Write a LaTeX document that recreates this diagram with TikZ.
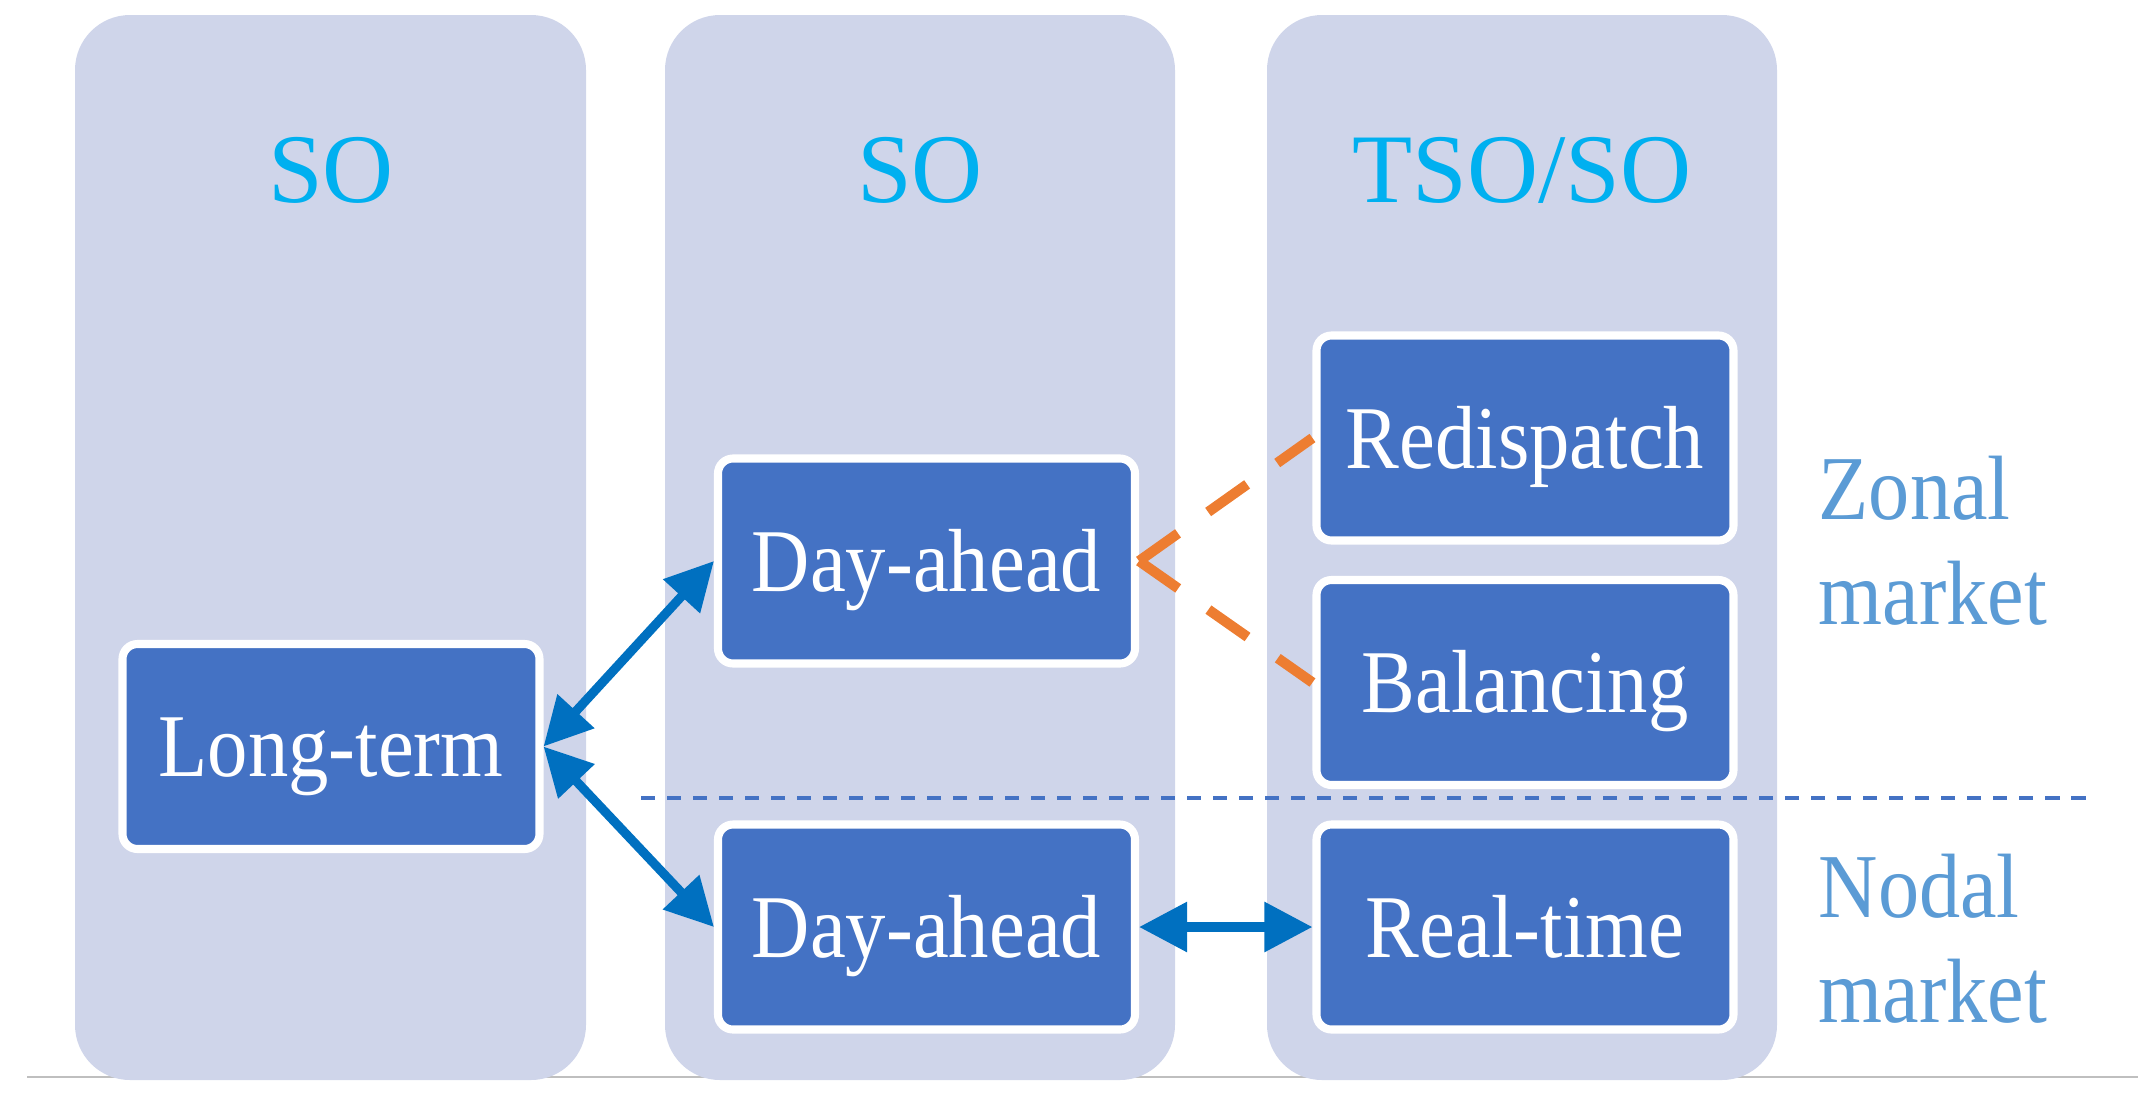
\documentclass[tikz,border=0pt]{standalone}
\usepackage{fontspec}
\setmainfont{Liberation Serif}
\newfontfamily\boxfont[FakeStretch=0.9]{Liberation Serif}
\usepackage{xcolor}
\usepackage{tikz}
\usetikzlibrary{arrows.meta,positioning}

\definecolor{colfill}{HTML}{CFD5EA}
\definecolor{boxblue}{HTML}{4472C4}
\definecolor{titlecyan}{HTML}{00B0F0}
\definecolor{sideblue}{HTML}{5B9BD5}
\definecolor{arrowblue}{HTML}{0070C0}
\definecolor{tieorange}{HTML}{ED7D31}

\begin{document}
\begin{tikzpicture}[>={Triangle[length=0.48cm,width=0.48cm]},
  column/.style={fill=colfill,rounded corners=0.55cm},
  title/.style={text=titlecyan,font=\fontsize{28}{34}\selectfont},
  market/.style={draw=white,fill=boxblue,text=white,line width=2.3pt,rounded corners=0.15cm,
    minimum width=4.17cm,minimum height=2.05cm,text height=0.6cm,text depth=0cm,
    font=\boxfont\fontsize{25.5}{30}\selectfont},
  sidetext/.style={text=sideblue,align=left,inner sep=0pt,anchor=west,
    font=\boxfont\fontsize{26}{30}\selectfont},
  link/.style={<->,arrowblue,line width=2.6pt},
  tie/.style={tieorange,line width=2.9pt,dash pattern=on 13.6pt off 10.5pt}]
  \useasboundingbox (0,0) rectangle (21.38,-10.99);
  \draw[black!25,line width=0.8pt] (0.27,-10.77) -- (21.38,-10.77);
  \fill[column] (0.75,-0.15) rectangle (5.86,-10.8);
  \fill[column] (6.65,-0.15) rectangle (11.75,-10.8);
  \fill[column] (12.67,-0.15) rectangle (17.77,-10.8);
  \node[title] (so1) at (3.31,-1.70) {SO};
  \node[title] (so2) at (9.20,-1.70) {SO};
  \node[title] (tso) at (15.22,-1.70) {TSO/SO};
  \draw[boxblue,line width=1.4pt,dash pattern=on 4pt off 3.4pt] (6.41,-7.98) -- (20.86,-7.98);
  \node[market] (long) at (3.31,-7.465) {Long-term};
  \node[market] (dayzonal) at (9.265,-5.61) {Day-ahead};
  \node[market] (daynodal) at (9.265,-9.27) {Day-ahead};
  \node[market] (redisp) at (15.25,-4.38) {Redispatch};
  \node[market] (balance) at (15.25,-6.825) {Balancing};
  \node[market] (realtime) at (15.25,-9.27) {Real-time};
  \node[sidetext] (zonal) at (18.18,-5.41) {Zonal\\market};
  \node[sidetext] (nodal) at (18.18,-9.39) {Nodal\\market};
  \draw[link] (long.east) -- (dayzonal.west);
  \draw[link] (long.east) -- (daynodal.west);
  \draw[link] (daynodal.east) -- (realtime.west);
  \draw[tie] (dayzonal.east) -- (redisp.west);
  \draw[tie] (dayzonal.east) -- (balance.west);
\end{tikzpicture}
\end{document}
